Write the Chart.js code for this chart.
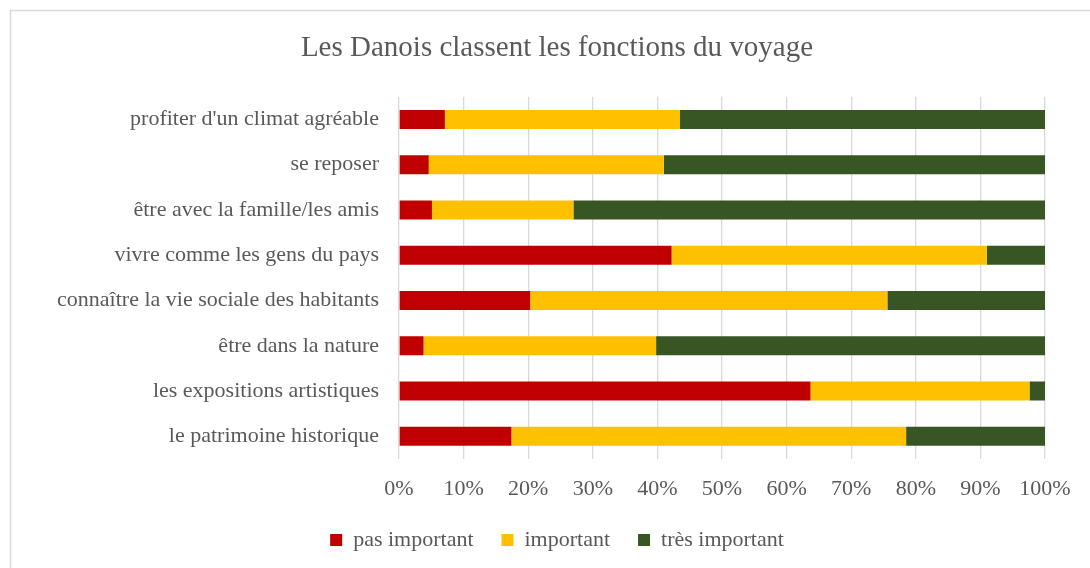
<!DOCTYPE html>
<html>
<head>
<meta charset="utf-8">
<script src="https://cdn.jsdelivr.net/npm/chart.js@4"></script>
<style>
  html, body { margin:0; padding:0; background:#fff; }
  #wrap { position:relative; width:1090px; height:568px; }
</style>
</head>
<body>
<div id="wrap"><canvas id="c" width="1090" height="568"></canvas></div>
<script>
const categories = [
  "profiter d'un climat agréable",
  "se reposer",
  "être avec la famille/les amis",
  "vivre comme les gens du pays",
  "connaître la vie sociale des habitants",
  "être dans la nature",
  "les expositions artistiques",
  "le patrimoine historique"
];
const pasImportant  = [7.1, 4.6, 5.1, 42.2, 20.3, 3.8, 63.7, 17.4];
const important     = [36.4, 36.4, 21.9, 48.8, 55.3, 36.0, 33.9, 61.1];
const tresImportant = [56.5, 59.0, 73.0, 9.0, 24.4, 60.2, 2.4, 21.5];
const seriesNames = ["pas important", "important", "très important"];
const titleText = "Les Danois classent les fonctions du voyage";

const FONT = "'Liberation Serif', 'Times New Roman', serif";
const GREY = "#595959";

const borderPlugin = {
  id: 'outerBorder',
  beforeDraw(chart) {
    const ctx = chart.ctx;
    ctx.save();
    ctx.fillStyle = '#fff';
    ctx.fillRect(0, 0, chart.width, chart.height);
    ctx.strokeStyle = '#d9d9d9';
    ctx.lineWidth = 1.5;
    ctx.strokeRect(10.5, 10.5, 2000, 2000);
    ctx.restore();
  }
};

new Chart(document.getElementById('c'), {
  type: 'bar',
  data: {
    labels: categories,
    datasets: [
      { label: seriesNames[0], data: pasImportant, backgroundColor: '#C00000' },
      { label: seriesNames[1], data: important, backgroundColor: '#FFC000' },
      { label: seriesNames[2], data: tresImportant, backgroundColor: '#375623' }
    ]
  },
  options: {
    indexAxis: 'y',
    responsive: false,
    animation: false,
    devicePixelRatio: 1,
    layout: { padding: { left: 24, right: 0, top: 0, bottom: 7 } },
    datasets: { bar: { barPercentage: 0.42, categoryPercentage: 1.0 } },
    scales: {
      x: {
        stacked: true,
        min: 0, max: 100,
        ticks: {
          stepSize: 10,
          callback: v => v + '%',
          color: GREY,
          font: { family: FONT, size: 22 },
          padding: 17,
          maxRotation: 0
        },
        grid: { color: '#d9d9d9', lineWidth: 1.3, drawTicks: false },
        border: { display: false },
        afterFit(scale) { scale.height = 42; scale.paddingRight = 45; }
      },
      y: {
        stacked: true,
        ticks: {
          color: GREY,
          font: { family: FONT, size: 22 },
          padding: 20
        },
        grid: { display: false, drawTicks: false },
        border: { display: false },
        afterFit(scale) { scale.width = 375; }
      }
    },
    plugins: {
      title: {
        display: true,
        text: titleText,
        color: GREY,
        font: { family: FONT, size: 29, weight: 'normal' },
        padding: { top: 31, bottom: 31 }
      },
      legend: {
        position: 'bottom',
        labels: {
          color: GREY,
          font: { family: FONT, size: 22 },
          boxWidth: 12,
          boxHeight: 12,
          padding: 28
        }
      },
      tooltip: { enabled: false }
    }
  },
  plugins: [borderPlugin]
});
</script>
</body>
</html>
